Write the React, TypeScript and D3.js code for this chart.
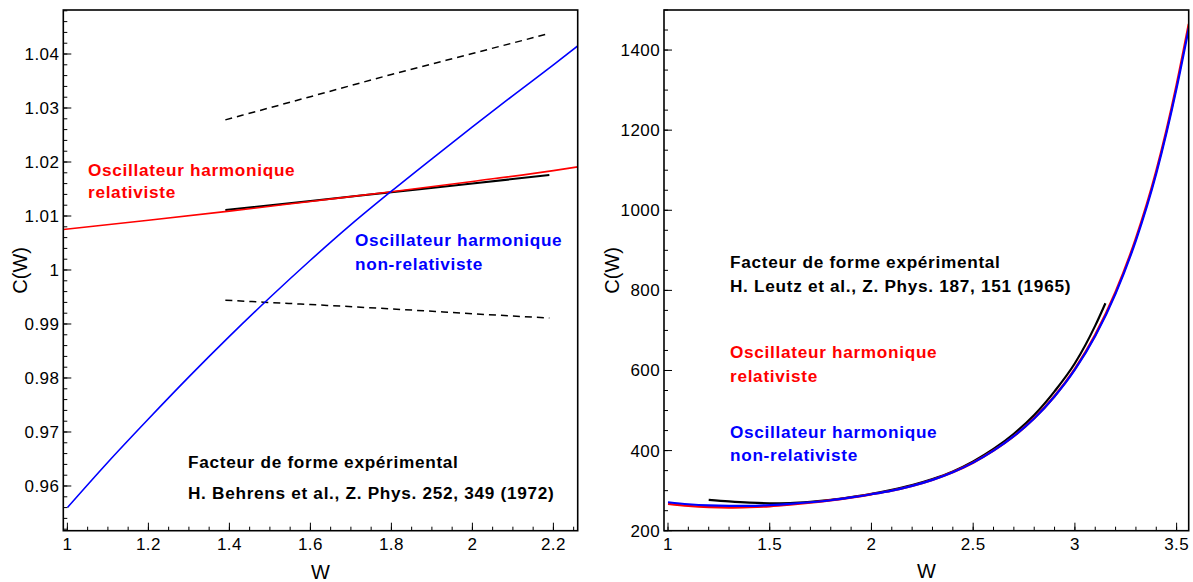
import React from "react";
import * as d3 from "d3";

// ---------- Left panel data (Behrens 1972) ----------
const leftXTicks = [1, 1.2, 1.4, 1.6, 1.8, 2, 2.2];
const leftYTicks = [0.96, 0.97, 0.98, 0.99, 1, 1.01, 1.02, 1.03, 1.04];

const leftBlueW = [1.0, 1.1, 1.2, 1.3, 1.4, 1.5, 1.6, 1.7, 1.8, 1.9, 2.0, 2.1, 2.2, 2.26];
const leftBlueC = [0.956, 0.9644, 0.9724, 0.9802, 0.9877, 0.9949, 1.0018, 1.0084, 1.0146, 1.0206, 1.0265, 1.0323, 1.038, 1.0415];

const leftRedW = [0.99, 1.2, 1.4, 1.6, 1.8, 2.0, 2.2, 2.26];
const leftRedC = [1.0075, 1.0092, 1.0109, 1.0127, 1.0145, 1.0164, 1.0184, 1.0191];

const leftExpW = [1.39, 1.6, 1.8, 2.0, 2.19];
const leftExpC = [1.0111, 1.0128, 1.0144, 1.016, 1.0176];
const leftExpUpperC = [1.0278, 1.0321, 1.0362, 1.0401, 1.0438];
const leftExpLowerC = [0.9944, 0.9936, 0.9928, 0.9919, 0.9911];

// ---------- Right panel data (Leutz 1965) ----------
const rightXTicks = [1, 1.5, 2, 2.5, 3, 3.5];
const rightYTicks = [200, 400, 600, 800, 1000, 1200, 1400];

const rightW = [1.0, 1.1, 1.2, 1.3, 1.4, 1.5, 1.6, 1.7, 1.8, 1.9, 2.0, 2.1, 2.2, 2.3, 2.4, 2.5, 2.6, 2.7, 2.8, 2.9, 3.0, 3.1, 3.2, 3.3, 3.4, 3.5, 3.56];
const rightBlueC = [271, 266, 263, 262, 262, 264, 267, 271, 276, 283, 291, 300, 312, 327, 346, 370, 400, 436, 480, 535, 602, 686, 792, 925, 1092, 1305, 1455];
const rightRedC = [267, 262, 259, 258, 259, 261, 265, 270, 276, 283, 291, 300, 312, 327, 346, 370, 400, 436, 481, 536, 604, 689, 796, 930, 1098, 1313, 1465];

const rightExpW = [1.2, 1.3, 1.4, 1.5, 1.6, 1.7, 1.8, 1.9, 2.0, 2.1, 2.2, 2.3, 2.4, 2.5, 2.6, 2.7, 2.8, 2.9, 3.0, 3.1, 3.15];
const rightExpC = [277, 273, 270, 268.5, 269, 272, 277, 284, 292, 302, 314, 329, 348, 373, 404, 442, 489, 548, 618, 712, 768];

const FONT = "'Liberation Sans', Arial, Helvetica, sans-serif";

type Pt = [number, number];
const zip = (a: number[], b: number[]): Pt[] => a.map((v, i) => [v, b[i]] as Pt);

function range(start: number, stop: number, step: number): number[] {
  const out: number[] = [];
  const n = Math.floor((stop - start) / step + 1e-6);
  for (let i = 0; i <= n; i++) out.push(+(start + i * step).toFixed(6));
  return out;
}

interface PanelProps {
  id: string;
  x: d3.ScaleLinear<number, number>;
  y: d3.ScaleLinear<number, number>;
  xTicks: number[];
  yTicks: number[];
  xMinor: number[];
  yMinor: number[];
  yTitleX: number;
  xTitleY: number;
  children?: React.ReactNode;
}

function Panel({ id, x, y, xTicks, yTicks, xMinor, yMinor, yTitleX, xTitleY, children }: PanelProps) {
  const [x0, x1] = x.range();
  const [y0, y1] = y.range(); // y0 bottom, y1 top
  return (
    <g>
      <defs>
        <clipPath id={id}>
          <rect x={x0} y={y1} width={x1 - x0} height={y0 - y1} />
        </clipPath>
      </defs>
      <g clipPath={`url(#${id})`}>{children}</g>
      {/* minor ticks */}
      {xMinor.map((t, i) => (
        <line key={"xm" + i} x1={x(t)} x2={x(t)} y1={y0} y2={y0 - 4} stroke="#000" strokeWidth={1} />
      ))}
      {yMinor.map((t, i) => (
        <line key={"ym" + i} x1={x0} x2={x0 + 4} y1={y(t)} y2={y(t)} stroke="#000" strokeWidth={1} />
      ))}
      {/* major ticks */}
      {xTicks.map((t, i) => (
        <line key={"xM" + i} x1={x(t)} x2={x(t)} y1={y0} y2={y0 - 8} stroke="#000" strokeWidth={1} />
      ))}
      {yTicks.map((t, i) => (
        <line key={"yM" + i} x1={x0} x2={x0 + 8} y1={y(t)} y2={y(t)} stroke="#000" strokeWidth={1} />
      ))}
      {/* frame */}
      <rect x={x0} y={y1} width={x1 - x0} height={y0 - y1} fill="none" stroke="#000" strokeWidth={1.6} />
      {/* tick labels */}
      {xTicks.map((t, i) => (
        <text key={"xl" + i} x={x(t)} y={y0 + 19} textAnchor="middle" fontFamily={FONT} fontSize={17} letterSpacing={0.4} fill="#000">
          {String(t)}
        </text>
      ))}
      {yTicks.map((t, i) => (
        <text key={"yl" + i} x={x0 - 4} y={y(t) + 6} textAnchor="end" fontFamily={FONT} fontSize={17} letterSpacing={0.4} fill="#000">
          {String(t)}
        </text>
      ))}
      {/* titles */}
      <text x={(x0 + x1) / 2} y={xTitleY} textAnchor="middle" fontFamily={FONT} fontSize={20} fill="#000">
        W
      </text>
      <text
        transform={`translate(${yTitleX},${(y0 + y1) / 2}) rotate(-90)`}
        textAnchor="middle"
        fontFamily={FONT}
        fontSize={20}
        fill="#000"
      >
        C(W)
      </text>
    </g>
  );
}

function Label({ x, y, color, children }: { x: number; y: number; color: string; children: React.ReactNode }) {
  return (
    <text x={x} y={y} fontFamily={FONT} fontWeight="bold" fontSize={17.2} letterSpacing={0.7} fill={color}>
      {children}
    </text>
  );
}

export default function App() {
  // Left scales
  const lx = d3.scaleLinear().domain([0.9899, 2.26]).range([63.3, 577.7]);
  const ly = d3.scaleLinear().domain([0.95172, 1.04815]).range([530.7, 10]);
  // Right scales
  const rx = d3.scaleLinear().domain([0.9803, 3.5594]).range([664, 1188.7]);
  const ry = d3.scaleLinear().domain([200, 1500]).range([530.7, 10]);

  const lLine = d3
    .line<Pt>()
    .x((d) => lx(d[0]))
    .y((d) => ly(d[1]))
    .curve(d3.curveMonotoneX);
  const rLine = d3
    .line<Pt>()
    .x((d) => rx(d[0]))
    .y((d) => ry(d[1]))
    .curve(d3.curveMonotoneX);

  const lxMinor = range(1.0, 2.25, 0.05);
  const lyMinor = range(0.952, 1.048, 0.002);
  const rxMinor = range(1.0, 3.5, 0.1);
  const ryMinor = range(200, 1500, 50);

  return (
    <svg
      width={1193}
      height={582}
      style={{ position: "absolute", left: 0, top: 0, background: "#fff" }}
      xmlns="http://www.w3.org/2000/svg"
    >
      <rect x={0} y={0} width={1193} height={582} fill="#fff" />

      {/* LEFT PANEL */}
      <Panel
        id="clipL"
        x={lx}
        y={ly}
        xTicks={leftXTicks}
        yTicks={leftYTicks}
        xMinor={lxMinor}
        yMinor={lyMinor}
        yTitleX={27}
        xTitleY={579}
      >
        <path d={lLine(zip(leftExpW, leftExpUpperC)) || ""} fill="none" stroke="#000" strokeWidth={1.5} strokeDasharray="7,5" />
        <path d={lLine(zip(leftExpW, leftExpLowerC)) || ""} fill="none" stroke="#000" strokeWidth={1.5} strokeDasharray="7,5" />
        <path d={lLine(zip(leftExpW, leftExpC)) || ""} fill="none" stroke="#000" strokeWidth={2} />
        <path d={lLine(zip(leftRedW, leftRedC)) || ""} fill="none" stroke="#ff0000" strokeWidth={1.6} />
        <path d={lLine(zip(leftBlueW, leftBlueC)) || ""} fill="none" stroke="#0000ff" strokeWidth={1.6} />
      </Panel>
      <Label x={88} y={176} color="#ff0000">Oscillateur harmonique</Label>
      <Label x={88} y={198} color="#ff0000">relativiste</Label>
      <Label x={355} y={246} color="#0000ff">Oscillateur harmonique</Label>
      <Label x={355} y={270} color="#0000ff">non-relativiste</Label>
      <Label x={188} y={468} color="#000">Facteur de forme expérimental</Label>
      <Label x={188} y={499} color="#000">H. Behrens et al., Z. Phys. 252, 349 (1972)</Label>

      {/* RIGHT PANEL */}
      <Panel
        id="clipR"
        x={rx}
        y={ry}
        xTicks={rightXTicks}
        yTicks={rightYTicks}
        xMinor={rxMinor}
        yMinor={ryMinor}
        yTitleX={619}
        xTitleY={578}
      >
        <path d={rLine(zip(rightExpW, rightExpC)) || ""} fill="none" stroke="#000" strokeWidth={2.2} />
        <path d={rLine(zip(rightW, rightRedC)) || ""} fill="none" stroke="#ff0000" strokeWidth={2.4} />
        <path d={rLine(zip(rightW, rightBlueC)) || ""} fill="none" stroke="#0000ff" strokeWidth={2.2} />
      </Panel>
      <Label x={730} y={268} color="#000">Facteur de forme expérimental</Label>
      <Label x={730} y={292} color="#000">H. Leutz et al., Z. Phys. 187, 151 (1965)</Label>
      <Label x={730} y={358} color="#ff0000">Oscillateur harmonique</Label>
      <Label x={730} y={382} color="#ff0000">relativiste</Label>
      <Label x={730} y={438} color="#0000ff">Oscillateur harmonique</Label>
      <Label x={730} y={461} color="#0000ff">non-relativiste</Label>
    </svg>
  );
}
